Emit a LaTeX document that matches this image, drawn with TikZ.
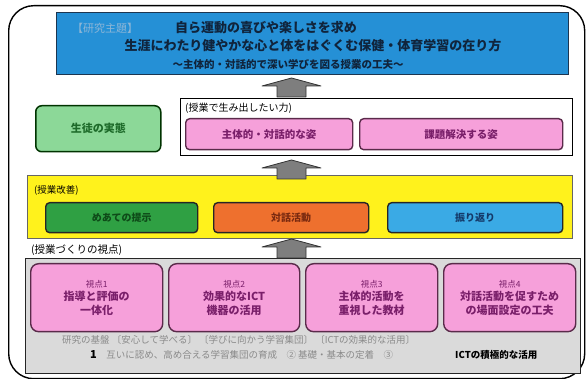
\documentclass[tikz,border=0pt]{standalone}
\usepackage{fontspec}
\newfontfamily\cjk{Noto Sans CJK JP}
\definecolor{titleblue}{HTML}{2590D6}
\definecolor{titleline}{HTML}{1C3550}
\definecolor{titletext}{HTML}{10243C}
\definecolor{taglabel}{HTML}{8DB6D6}
\definecolor{pinkfill}{HTML}{F6A0DA}
\definecolor{pinkline}{HTML}{5A2A4A}
\definecolor{pinktext}{HTML}{7A1F6A}
\definecolor{lgreen}{HTML}{8CD898}
\definecolor{lgreentext}{HTML}{1E6B2A}
\definecolor{dgreen}{HTML}{2FA043}
\definecolor{dgreentext}{HTML}{0E4A18}
\definecolor{orangefill}{HTML}{EE702E}
\definecolor{orangetext}{HTML}{7A2A10}
\definecolor{skyfill}{HTML}{3AAAE5}
\definecolor{skytext}{HTML}{143A6A}
\definecolor{yellowfill}{HTML}{FFF21C}
\definecolor{grayfill}{HTML}{DADADA}
\definecolor{graytext}{HTML}{8A8A8A}
\definecolor{arrowfill}{HTML}{7E7E7E}
\begin{document}
\begin{tikzpicture}[x=1pt,y=-1pt,
  every node/.style={font=\cjk, inner sep=0pt},
  area/.style={anchor=north west, draw},
  inbox/.style={anchor=north west, draw=pinkline, line width=1.4pt, rounded corners=4pt},
  pinkbox/.style={inbox, fill=pinkfill, text=pinktext, font=\cjk\bfseries\fontsize{10.5}{13}\selectfont, align=center},
  lbl/.style={anchor=west, font=\cjk\fontsize{10}{12}\selectfont},
  blockarrow/.style={fill=arrowfill, draw=black!80, line width=0.8pt, line join=round}]
\useasboundingbox (0,0) rectangle (587,379);

% outer frame
\node[area, line width=1.4pt, rounded corners=25pt, minimum width=576pt, minimum height=373pt] (outer) at (8,5) {};

% title
\node[area, fill=titleblue, draw=titleline, line width=1pt, minimum width=512pt, minimum height=62pt] (title) at (56,12) {};
\node[anchor=west, text=taglabel, font=\cjk\fontsize{11}{13}\selectfont] (ttag) at (72,28) {【研究主題】};
\node[text=titletext, font=\cjk\bfseries\fontsize{13}{15}\selectfont] (t1) at (266,28) {自ら運動の喜びや楽しさを求め};
\node[text=titletext, font=\cjk\bfseries\fontsize{13}{15}\selectfont] (t2) at (313,46) {生涯にわたり健やかな心と体をはぐくむ保健・体育学習の在り方};
\node[text=titletext, font=\cjk\bfseries\fontsize{10.5}{13}\selectfont] (t3) at (288,64) {～主体的・対話的で深い学びを図る授業の工夫～};

% middle row
\node[area, fill=lgreen, draw=black!80!green, line width=1.5pt, rounded corners=6pt, minimum width=125pt, minimum height=46pt, text=lgreentext, font=\cjk\bfseries\fontsize{11}{13}\selectfont] (jittai) at (35,105) {生徒の実態};
\node[area, line width=1pt, minimum width=392pt, minimum height=57pt] (chikara) at (180,98) {};
\node[lbl] (chikaralbl) at (185,108) {(授業で生み出したい力)};
\node[pinkbox, minimum width=167pt, minimum height=31pt] (p1) at (185,118) {主体的・対話的な姿};
\node[pinkbox, minimum width=203pt, minimum height=31pt] (p2) at (359,118) {課題解決する姿};

% improvement row
\node[area, fill=yellowfill, draw=black!60, line width=1pt, minimum width=545pt, minimum height=63pt] (kaizen) at (27,175) {};
\node[lbl, font=\cjk\fontsize{9.5}{11}\selectfont] (kaizenlbl) at (34,190) {(授業改善)};
\node[inbox, draw=black!85, fill=dgreen, text=dgreentext, minimum width=152pt, minimum height=30pt, font=\cjk\bfseries\fontsize{10}{12}\selectfont] (k1) at (45,202) {めあての提示};
\node[inbox, draw=black!85, fill=orangefill, text=orangetext, minimum width=155pt, minimum height=30pt, font=\cjk\bfseries\fontsize{10}{12}\selectfont] (k2) at (213,202) {対話活動};
\node[inbox, draw=black!85, fill=skyfill, text=skytext, minimum width=175pt, minimum height=30pt, font=\cjk\bfseries\fontsize{10}{12}\selectfont] (k3) at (387,202) {振り返り};

% viewpoints
\node[lbl, font=\cjk\fontsize{10.5}{12}\selectfont] (shitenlbl) at (31,250) {(授業づくりの視点)};
\node[area, fill=grayfill, draw=black!85, line width=1.2pt, minimum width=555pt, minimum height=115pt] (base) at (25,258) {};
\node[pinkbox, rounded corners=8pt, minimum width=132pt, minimum height=68pt, font=\cjk\bfseries\fontsize{11}{13.5}\selectfont] (s1) at (30,263) {{\fontsize{8.5}{10}\selectfont\mdseries 視点1}\\指導と評価の\\一体化};
\node[pinkbox, rounded corners=8pt, minimum width=131pt, minimum height=68pt, font=\cjk\bfseries\fontsize{11}{13.5}\selectfont] (s2) at (168,263) {{\fontsize{8.5}{10}\selectfont\mdseries 視点2}\\効果的なICT\\機器の活用};
\node[pinkbox, rounded corners=8pt, minimum width=132pt, minimum height=68pt, font=\cjk\bfseries\fontsize{11}{13.5}\selectfont] (s3) at (305,263) {{\fontsize{8.5}{10}\selectfont\mdseries 視点3}\\主体的活動を\\重視した教材};
\node[pinkbox, rounded corners=8pt, minimum width=132pt, minimum height=68pt, font=\cjk\bfseries\fontsize{11}{13.5}\selectfont] (s4) at (443,263) {{\fontsize{8.5}{10}\selectfont\mdseries 視点4}\\対話活動を促すため\\の場面設定の工夫};
\node[anchor=west, text=graytext, font=\cjk\fontsize{9.5}{11}\selectfont] (b1) at (62,340) {研究の基盤 〔安心して学べる〕 〔学びに向かう学習集団〕 〔ICTの効果的な活用〕};
\node[anchor=west, text=graytext, font=\cjk\fontsize{9.5}{11}\selectfont] (b2) at (90,355) {{\color{black}\bfseries\fontsize{11}{12}\selectfont 1}\quad 互いに認め、高め合える学習集団の育成\quad ②\ 基礎・基本の定着\quad ③};
\node[anchor=west, font=\cjk\bfseries\fontsize{9.5}{11}\selectfont] (b3) at (455,355) {ICTの積極的な活用};

% block arrows
\foreach \yt in {78,160,239}{
  \draw[blockarrow] (291.5,\yt) -- (321,{\yt+8}) -- (306,{\yt+8}) -- (306,{\yt+19}) -- (277,{\yt+19}) -- (277,{\yt+8}) -- (262,{\yt+8}) -- cycle;
}
\end{tikzpicture}
\end{document}
